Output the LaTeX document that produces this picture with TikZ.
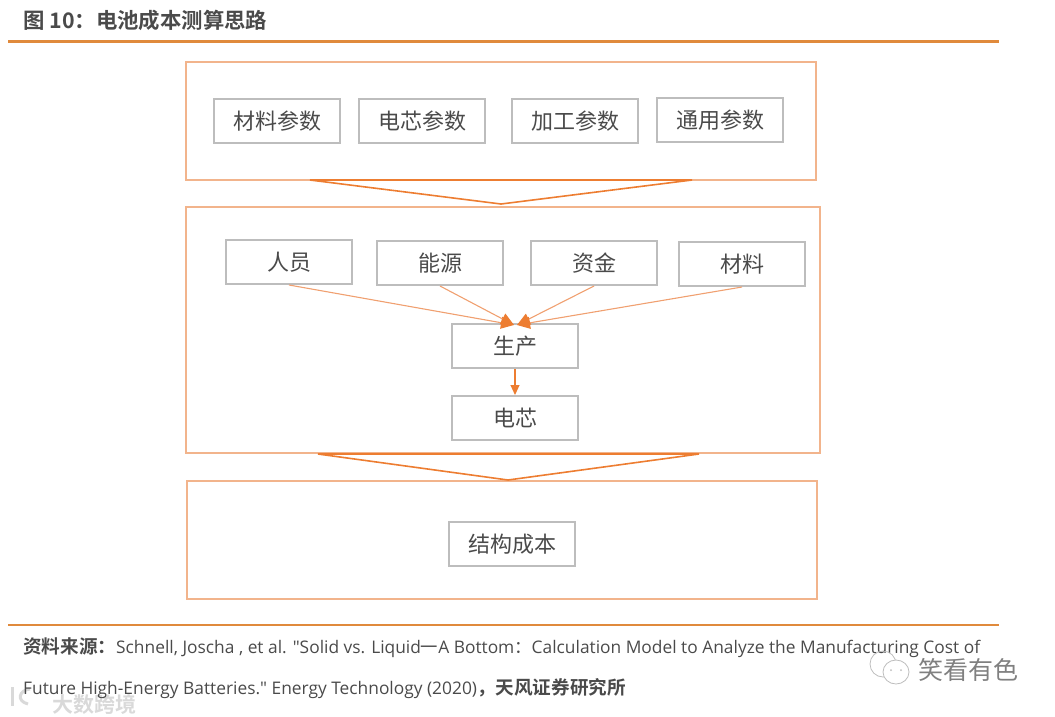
\documentclass[tikz,border=0pt]{standalone}
\usepackage{fontspec}
\usepackage{xcolor}
\setmainfont{Open Sans}
\newfontfamily\latin{Open Sans}
\newfontfamily\cjk{Noto Sans CJK SC}
\newfontfamily\cjkb{Noto Sans CJK SC Bold}
\definecolor{rptline}{HTML}{E08A3C}
\definecolor{rptframe}{HTML}{F2B48C}
\definecolor{rptflow}{HTML}{F0A070}
\definecolor{rptarrow}{HTML}{ED7D31}
\definecolor{rptgray}{HTML}{BDBDBD}
\definecolor{rpttext}{HTML}{4A4A4A}
\definecolor{rptmark}{HTML}{D9D9D9}
\usetikzlibrary{arrows.meta,positioning,calc}

\begin{document}
\begin{tikzpicture}[x=1pt,y=-1pt,
  framebox/.style={draw=rptframe,line width=2pt},
  parambox/.style={draw=rptgray,line width=2pt,minimum width=126pt,minimum height=44pt,inner sep=0pt,text=rpttext,font=\cjk\fontsize{22}{24}\selectfont},
  flowline/.style={draw=rptflow,line width=1.1pt,-{Triangle[length=13pt,width=12pt,color=rptarrow]}},
  funnel/.style={draw=rptarrow,line width=1.6pt,line join=miter},
  rule/.style={draw=rptline,line width=2.4pt},
  sourcetext/.style={anchor=west,inner sep=0pt,text=rpttext,font=\latin\fontsize{17.35}{20}\selectfont},
  marktext/.style={anchor=west,inner sep=0pt}]
\useasboundingbox (0,0) rectangle (1055,716);
\node[anchor=west,text=rpttext,font=\cjkb\fontsize{21.4}{24}\selectfont,inner sep=0pt] (title) at (23,20) {图 10：电池成本测算思路};
\coordinate (ruletopl) at (8,41.5);
\coordinate (ruletopr) at (999,41.5);
\draw[rule] (ruletopl) -- (ruletopr);
% outer frames
\node[framebox,minimum width=630pt,minimum height=118pt,inner sep=0pt] (params) at (501,121) {};
\node[framebox,minimum width=634pt,minimum height=246pt,inner sep=0pt] (making) at (503,330) {};
\node[framebox,minimum width=630pt,minimum height=118pt,inner sep=0pt] (structure) at (502,540) {};
% parameters
\node[parambox] (material) at (277,121) {材料参数};
\node[parambox] (cell) at (422,121) {电芯参数};
\node[parambox] (process) at (575,121) {加工参数};
\node[parambox] (general) at (720,120) {通用参数};
% inputs
\node[parambox] (staff) at (289,262) {人员};
\node[parambox] (energy) at (440,263) {能源};
\node[parambox] (capital) at (594,263) {资金};
\node[parambox] (stuff) at (742,264) {材料};
\node[parambox] (produce) at (515,346) {生产};
\node[parambox] (battery) at (515,418) {电芯};
\node[parambox] (cost) at (512,544) {结构成本};
\coordinate (tipl) at (514,325);
\coordinate (tipr) at (517,325);
\draw[flowline] (staff.south) -- (tipl);
\draw[flowline] (energy.south) -- (tipl);
\draw[flowline] (capital.south) -- (tipr);
\draw[flowline] (stuff.south) -- (tipr);
\draw[flowline,draw=rptarrow,-{Triangle[length=10pt,width=9pt,color=rptarrow]}] (produce) -- (battery);
% funnels between frames
\coordinate (funnelal) at (310,180);
\coordinate (funnelar) at (692,180);
\coordinate (funnelat) at (501,204);
\draw[funnel] (funnelal) -- (funnelar) -- (funnelat) -- cycle;
\coordinate (funnelbl) at (318,454);
\coordinate (funnelbr) at (699,454);
\coordinate (funnelbt) at (508,480);
\draw[funnel] (funnelbl) -- (funnelbr) -- (funnelbt) -- cycle;
\coordinate (rulebotl) at (8,625);
\coordinate (rulebotr) at (999,625);
\draw[rule,line width=2pt] (rulebotl) -- (rulebotr);
% watermarks first, source text over them
\node[marktext,text=rptmark,font=\cjkb\fontsize{21}{23}\selectfont] (markleft) at (52,704) {大数跨境};
\draw[rptmark,line width=3pt] (12,687) -- (12,706);
\draw[rptmark,line width=3pt] (30,689) .. controls (19,690) and (16,701) .. (28,704);
\node[sourcetext] (source) at (23,648) {{\cjkb\fontsize{18.6}{20}\selectfont 资料来源：}Schnell, Joscha , et al. "Solid vs. Liquid{\cjk 一}A Bottom{\cjk ：}Calculation Model to Analyze the Manufacturing Cost of};
\node[sourcetext] (sourceb) at (23,689) {Future High-Energy Batteries." Energy Technology (2020){\cjkb\fontsize{18.6}{20}\selectfont ，天风证券研究所}};
\node[marktext,text=rpttext!70,font=\cjk\fontsize{25}{27}\selectfont] (mark) at (918,670) {笑看有色};
\draw[rptgray,line width=.8pt] (883,664) circle (13);
\draw[rptgray,line width=.8pt,fill=white] (896,672) ellipse (13 and 12);
\fill[rptgray] (891,670) circle (1) (901,670) circle (1);
\end{tikzpicture}
\end{document}
